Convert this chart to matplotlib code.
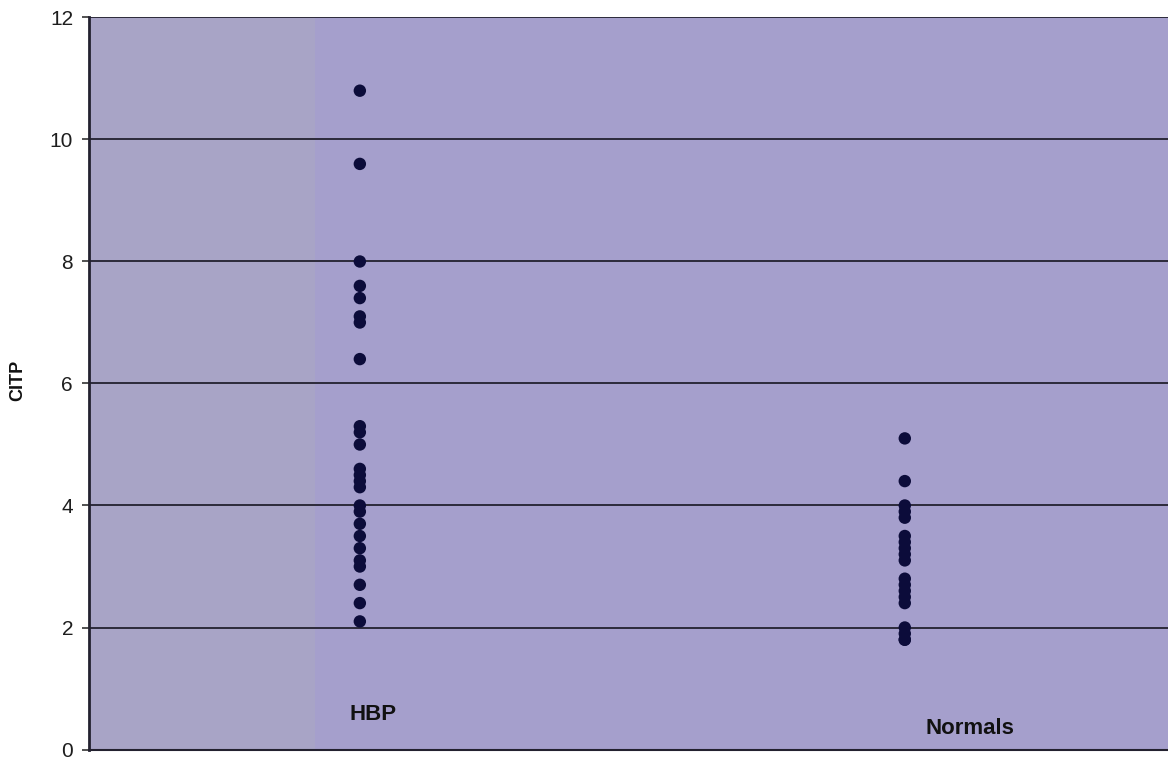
import matplotlib
matplotlib.use("Agg")
import matplotlib.pyplot as plt

# CITP measurements per group
groups = ["HBP", "Normals"]
hbp_values = [10.8, 9.6, 8.0, 7.6, 7.4, 7.1, 7.0, 6.4, 5.3, 5.2, 5.0,
              4.6, 4.5, 4.4, 4.3, 4.0, 3.9, 3.7, 3.5, 3.3, 3.1, 3.0,
              2.7, 2.4, 2.1]
normal_values = [5.1, 4.4, 4.0, 3.9, 3.8, 3.5, 3.4, 3.3, 3.2, 3.1,
                 2.8, 2.7, 2.6, 2.5, 2.4, 2.0, 1.9, 1.8, 1.8]
y_ticks = [0, 2, 4, 6, 8, 10, 12]

plt.rcParams["font.family"] = ["Liberation Sans", "DejaVu Sans"]

fig = plt.figure(figsize=(11.68, 7.57), dpi=100)
ax = fig.add_axes([0.0762, 0.0099, 0.9238, 0.9670])

ax.set_facecolor("#a59fcc")
ax.set_xlim(0.503, 2.483)
ax.set_ylim(0, 12)

# slightly greyer band at the left of the plot area
ax.axvspan(0.503, 0.918, color="#a8a4c6", zorder=0, lw=0)

for y in y_ticks[1:]:
    ax.axhline(y, color="#23212f", lw=1.3, zorder=1)

series = [hbp_values, normal_values]
for i, vals in enumerate(series):
    ax.scatter([i + 1] * len(vals), vals, s=80, color="#0c0c3a",
               edgecolors="none", zorder=3)

# group labels drawn inside the plot area
label_pos = [(1.024, 0.58), (2.12, 0.34)]
for name, (x, y) in zip(groups, label_pos):
    ax.text(x, y, name, ha="center", va="center", fontsize=16,
            fontweight="bold", color="#111111", zorder=4)

ax.set_yticks(y_ticks)
ax.set_yticklabels([str(t) for t in y_ticks], fontsize=15, color="#1e1e1e")
ax.tick_params(axis="y", length=5, width=1.2, pad=6.5, color="#333333")
ax.set_xticks([])

fig.text(18 / 1168, 1 - 380 / 757, "CITP", rotation=90, ha="center",
         va="center", fontsize=13, fontweight="bold", color="#111111")

for side in ["top", "right"]:
    ax.spines[side].set_visible(False)
ax.spines["left"].set_color("#23212f")
ax.spines["left"].set_linewidth(2)
ax.spines["bottom"].set_color("#23212f")
ax.spines["bottom"].set_linewidth(1.5)

fig.savefig("out.png", dpi=100, facecolor="white")
